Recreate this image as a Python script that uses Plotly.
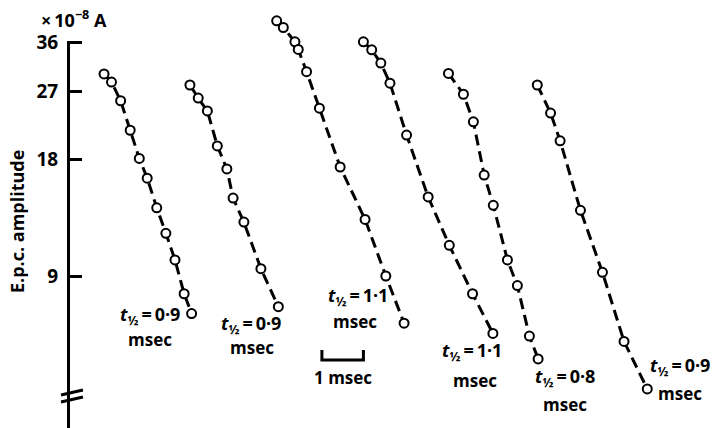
import numpy as np
import plotly.graph_objects as go

# End-plate current decays: time (msec) and amplitude (x 1e-8 A)
t1 = [0.82, 1.00, 1.22, 1.45, 1.67, 1.86, 2.09, 2.31, 2.53, 2.75, 2.93]
a1 = [29.9, 28.5, 25.5, 21.4, 18.1, 16.1, 13.5, 11.6, 9.9, 8.1, 7.2]

t2 = [2.89, 3.09, 3.31, 3.55, 3.78, 3.93, 4.19, 4.60, 5.02]
a2 = [28.0, 25.9, 24.0, 19.5, 17.0, 14.3, 12.4, 9.4, 7.5]

t3 = [4.98, 5.14, 5.42, 5.50, 5.70, 6.01, 6.51, 7.11, 7.61, 8.05]
a3 = [41.0, 39.4, 36.2, 34.6, 30.3, 24.4, 17.2, 12.6, 9.0, 6.8]

t4 = [7.07, 7.27, 7.49, 7.71, 8.11, 8.63, 9.14, 9.70, 10.19]
a4 = [36.2, 34.5, 31.9, 28.3, 20.8, 14.4, 10.8, 8.1, 6.4]

t5 = [9.12, 9.48, 9.72, 9.98, 10.20, 10.54, 10.78, 11.07, 11.28]
a5 = [30.0, 26.5, 22.5, 16.4, 13.7, 9.9, 8.5, 6.3, 5.5]

t6 = [11.26, 11.58, 11.81, 12.30, 12.83, 13.35, 13.91]
a6 = [28.0, 23.7, 20.1, 13.3, 9.2, 6.1, 4.6]

half_times = ["0·9", "0·9", "1·1", "1·1", "0·8", "0·9"]
ytick_vals = [9, 18, 27, 36]
ytick_text = ["9", "18", "27", "36"]
scale_bar_start = 6.07   # msec
scale_bar_len = 1.0      # msec

series = [(t1, a1), (t2, a2), (t3, a3), (t4, a4), (t5, a5), (t6, a6)]

# label placement: (x of t-half line, paper y, x of "msec" line, paper y)
label_pos = [
    (1.93, 0.262, 1.93, 0.206),
    (4.36, 0.241, 4.39, 0.187),
    (6.94, 0.308, 6.87, 0.248),
    (9.69, 0.178, 9.76, 0.112),
    (11.93, 0.117, 11.93, 0.054),
    (14.70, 0.143, 14.70, 0.081),
]

FONT = "Open Sans"
YR = [0.562, 1.6665]
XR = [0, 652 / 41.5]
THIN = "\u2009"

fig = go.Figure()
for t, a in series:
    fig.add_trace(go.Scatter(
        x=t, y=a, mode="lines+markers",
        line=dict(color="black", width=3, dash="11px,6px"),
        marker=dict(symbol="circle", size=9, color="white",
                    line=dict(color="black", width=2)),
        cliponaxis=False, hoverinfo="skip", showlegend=False,
    ))

annotations = []
for (xa, ya, xb, yb), th in zip(label_pos, half_times):
    annotations.append(dict(
        x=xa, y=ya, xref="x", yref="paper", showarrow=False,
        text=f"<i>t</i><sub>½</sub>{THIN}={THIN}{th}",
        font=dict(family=FONT, size=18, color="black", weight="bold"),
        xanchor="center", yanchor="middle",
    ))
    annotations.append(dict(
        x=xb, y=yb, xref="x", yref="paper", showarrow=False,
        text="msec",
        font=dict(family=FONT, size=17, color="black", weight="bold"),
        xanchor="center", yanchor="middle",
    ))

# scale bar caption
annotations.append(dict(
    x=scale_bar_start + scale_bar_len / 2, y=0.117, xref="x", yref="paper",
    showarrow=False, text="1 msec",
    font=dict(family=FONT, size=17, color="black", weight="bold"),
    xanchor="center", yanchor="middle",
))
# axis title and unit
annotations.append(dict(
    x=-0.0813, y=0.4836, xref="paper", yref="paper", showarrow=False,
    text="E.p.c. amplitude", textangle=-90,
    font=dict(family=FONT, size=18, color="black", weight="bold"),
    xanchor="center", yanchor="middle",
))
annotations.append(dict(
    x=-0.0475, y=0.99, xref="paper", yref="paper", showarrow=False,
    text=f"×{THIN}10<sup>−8</sup> A",
    font=dict(family=FONT, size=18, color="black", weight="bold"),
    xanchor="left", yanchor="top",
))

top36 = (np.log10(36) - YR[0]) / (YR[1] - YR[0])
sb_top, sb_bot = 0.182, 0.159
x0, x1 = scale_bar_start, scale_bar_start + scale_bar_len
shapes = [
    # blank the axis line above the top tick
    dict(type="rect", xref="paper", yref="paper", x0=-0.012, x1=0.006,
         y0=top36 + 0.004, y1=1.0, fillcolor="white",
         line=dict(width=0), layer="above"),
    # axis break marks
    dict(type="line", xref="paper", yref="paper", x0=-0.0138, x1=0.0199,
         y0=0.0771, y1=0.0888, line=dict(color="black", width=3)),
    dict(type="line", xref="paper", yref="paper", x0=-0.0138, x1=0.0199,
         y0=0.0607, y1=0.0724, line=dict(color="black", width=3)),
    # 1 msec scale bar
    dict(type="path", xref="x", yref="paper",
         path=f"M {x0},{sb_top} L {x0},{sb_bot} L {x1},{sb_bot} L {x1},{sb_top}",
         line=dict(color="black", width=3)),
]

fig.update_layout(
    width=722, height=428,
    margin=dict(l=70, r=0, t=0, b=0),
    paper_bgcolor="white", plot_bgcolor="white",
    showlegend=False,
    annotations=annotations, shapes=shapes,
    xaxis=dict(range=XR, visible=False, showgrid=False, zeroline=False),
    yaxis=dict(
        type="log", range=YR, showgrid=False, zeroline=False,
        showline=True, linewidth=3, linecolor="black",
        tickvals=ytick_vals, ticktext=ytick_text,
        ticks="inside", ticklen=12, tickwidth=3, tickcolor="black",
        ticklabelstandoff=5,
        tickfont=dict(family=FONT, size=19, color="black", weight="bold"),
    ),
)

fig.write_html("out.html")
